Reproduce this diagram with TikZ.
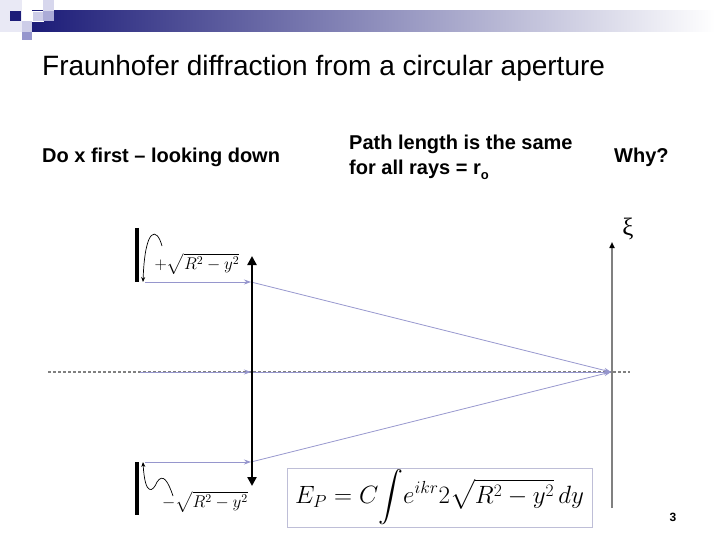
\RequirePackage{fix-cm}
\documentclass[tikz,border=0pt]{standalone}
\usepackage{exscale}
\usepackage{amsmath}
\usepackage[no-math]{fontspec}
\setmainfont{Liberation Sans}
\newfontfamily\greekserif{Liberation Serif}
\usetikzlibrary{arrows.meta}
\definecolor{navy}{RGB}{28,28,120}
\definecolor{lilac}{RGB}{150,150,205}
\definecolor{paleblue}{RGB}{205,205,232}
\definecolor{boxline}{RGB}{190,190,215}

\begin{document}
\begin{tikzpicture}[x=1pt,y=-1pt,
  ray/.style={draw=lilac,line width=0.8pt,-{Stealth[length=7pt,width=5pt]}},
  stopbar/.style={line width=4pt},
  wiggle/.style={line width=0.7pt,-{Stealth[length=5pt,width=4pt]}},
  heading/.style={font=\bfseries\fontsize{20}{24}\selectfont,anchor=base west,inner sep=0pt}]
\useasboundingbox (0,0) rectangle (720,540);
% corner squares and bar
\fill[paleblue!45] (0,0) rectangle (22,32);
\shade[left color=navy,right color=white] (32,11) rectangle (715,32);
\fill[navy] (10,11) rectangle (21,21);
\fill[paleblue] (22,21) rectangle (32,32);
\fill[lilac] (22,32) rectangle (32,40);
\fill[paleblue!80] (43,0) rectangle (54,11);
\filldraw[fill=paleblue,draw=white,line width=0.6pt] (32,11) rectangle (43,21);
\fill[lilac!80] (43,11) rectangle (54,21);
% texts
\node[anchor=base west,inner sep=0pt,font=\fontsize{28}{32}\selectfont] (title) at (42,76) {Fraunhofer diffraction from a circular aperture};
\node[heading] (first) at (42,163) {Do x first -- looking down};
\node[heading] (path1) at (349,150) {Path length is the same};
\node[heading] (path2) at (349,175) {for all rays = r\raisebox{-5pt}{\fontsize{13}{14}\selectfont o}};
\node[heading] (why) at (614,163) {Why?};
\node[font=\greekserif\fontsize{25}{28}\selectfont] (xi) at (628,229) {ξ};
\node[font=\bfseries\fontsize{12}{14}\selectfont] (page) at (673,517) {3};
% axis and screen
\coordinate (axisL) at (48,372);
\coordinate (axisR) at (630,372);
\draw[gray,line width=1.2pt,dash pattern=on 3pt off 2pt] (axisL) -- (axisR);
\coordinate (scrBot) at (612,508);
\coordinate (scrTop) at (612,242);
\draw[gray,line width=1.5pt,-{Triangle[length=6pt,width=5pt,color=black]}] (scrBot) -- (scrTop);
% rays
\coordinate (srcT) at (145,282);
\coordinate (srcM) at (140,372);
\coordinate (srcB) at (145,462);
\coordinate (lensT) at (251,282);
\coordinate (lensM) at (251,372);
\coordinate (lensB) at (251,462);
\coordinate (P) at (611,372);
\draw[ray] (srcT) -- (lensT);
\draw[ray] (srcM) -- (lensM);
\draw[ray] (srcB) -- (lensB);
\draw[ray] (lensT) -- (P);
\draw[ray] (lensM) -- (P);
\draw[ray] (lensB) -- (P);
% lens
\coordinate (lensTop) at (252,256);
\coordinate (lensBot) at (252,486);
\draw[line width=2.5pt,{Triangle[length=9pt,width=9pt]}-{Triangle[length=9pt,width=9pt]}] (lensTop) -- (lensBot);
% aperture edges
\coordinate (stopA) at (137,228);
\coordinate (stopB) at (137,282);
\coordinate (stopC) at (137,462);
\coordinate (stopD) at (137,515);
\draw[stopbar] (stopA) -- (stopB);
\draw[stopbar] (stopC) -- (stopD);
\draw[wiggle] (162,246) .. controls (157,227) and (145,226) .. (143,282);
\draw[wiggle] (173,496) .. controls (168,481) and (163,473) .. (157,482) .. controls (153,492) and (145,497) .. (143,462);
\node[font=\fontsize{17}{20}\selectfont] (plusroot) at (197,264) {$+\sqrt{R^2-y^2}$};
\node[font=\fontsize{17}{20}\selectfont] (minusroot) at (205,502) {$-\sqrt{R^2-y^2}$};
% result
\node[draw=boxline,line width=0.8pt,minimum width=305pt,minimum height=59pt,inner sep=0pt,font=\fontsize{25}{30}\selectfont] (eq) at (439.5,497.5) {$E_P=C\!\displaystyle\int\! e^{ikr}2\sqrt{R^2-y^2}\,dy$};
\end{tikzpicture}
\end{document}
